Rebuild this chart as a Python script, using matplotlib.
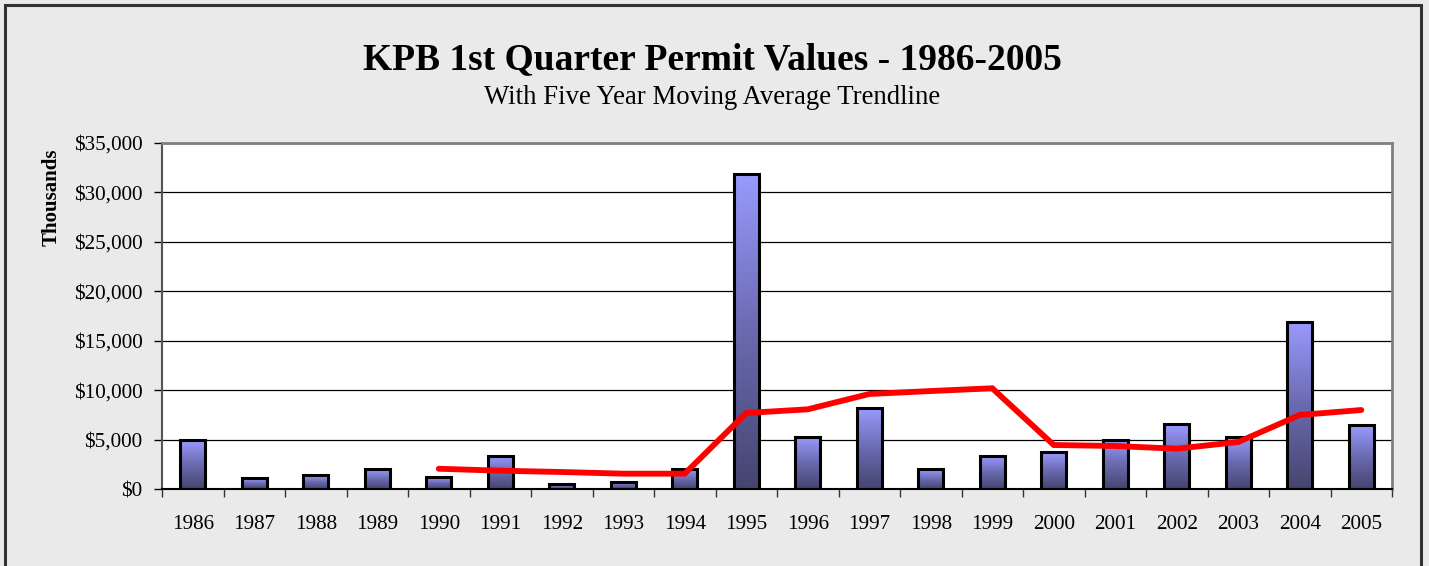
import numpy as np
import matplotlib
matplotlib.use("Agg")
import matplotlib.pyplot as plt
from matplotlib.patches import Rectangle
from matplotlib.ticker import FuncFormatter, MultipleLocator

# values in thousands of dollars
years = [str(y) for y in range(1986, 2006)]
permit_values = [4930, 1100, 1400, 2000, 1200, 3370, 480, 740, 2020, 31900,
                 5290, 8190, 2020, 3340, 3740, 4960, 6570, 5290, 16900, 6470]
# five year moving average, starts at 1990
ma_years = years[4:]
ma_values = [2050, 1850, 1720, 1550, 1550, 7690, 8060, 9610, 9910, 10190,
             4450, 4350, 4080, 4750, 7490, 7990]

plt.rcParams["font.family"] = ["Liberation Serif", "DejaVu Serif"]

fig = plt.figure(figsize=(14.29, 5.66), dpi=100)
fig.patch.set_facecolor("#eaeaea")
# outer chart frame (bottom edge falls below the image)
fig.patches.append(Rectangle((5 / 1429, -0.1), 1416 / 1429, 1.1 - 5 / 566,
                             transform=fig.transFigure, fill=False,
                             edgecolor="#333333", linewidth=2.2))

ax = fig.add_axes([162 / 1429, 1 - 489 / 566, 1230 / 1429, 346 / 566])
ax.set_facecolor("white")

x = np.arange(len(years))
bar_w = 0.40
grad = np.linspace(0, 1, 256).reshape(-1, 1)
cmap = matplotlib.colors.LinearSegmentedColormap.from_list(
    "barfade", ["#45456f", "#6a6ab0", "#9a9aff"])
for xi, v in zip(x, permit_values):
    ax.imshow(grad, cmap=cmap, origin="lower", aspect="auto",
              extent=(xi - bar_w / 2, xi + bar_w / 2, 0, v), zorder=2)
    ax.add_patch(Rectangle((xi - bar_w / 2, 0), bar_w, v, fill=False,
                           edgecolor="black", linewidth=2.2, zorder=3))

ma_x = [years.index(y) for y in ma_years]
ax.plot(ma_x, ma_values, color="#ff0000", linewidth=4.2, zorder=4,
        solid_capstyle="round", solid_joinstyle="miter")

ax.set_xlim(-0.5, len(years) - 0.5)
ax.set_ylim(0, 35000)
ax.yaxis.set_major_locator(MultipleLocator(5000))
ax.yaxis.set_major_formatter(FuncFormatter(lambda v, p: "${:,.0f}".format(v)))
ax.yaxis.grid(True, color="black", linewidth=0.9, zorder=1)
ax.set_axisbelow(True)

ax.set_xticks(x)
ax.set_xticklabels(years)
ax.set_xticks(np.arange(-0.5, len(years)), minor=True)
ax.tick_params(axis="x", which="major", length=0, pad=19, labelsize=15.2)
ax.tick_params(axis="x", which="minor", length=6, width=1, color="#333333")
ax.tick_params(axis="y", length=6, width=1, labelsize=15.2, pad=8)

for side in ["top", "right"]:
    ax.spines[side].set_color("#808080")
    ax.spines[side].set_linewidth(2)
ax.spines["left"].set_color("#555555")
ax.spines["left"].set_linewidth(1.5)
ax.spines["bottom"].set_color("black")
ax.spines["bottom"].set_linewidth(1.5)

fig.text(52 / 1429, 1 - 197 / 566, "Thousands", rotation=90, ha="center",
         va="center", fontsize=15, fontweight="bold")

fig.text(0.4985, 1 - 60 / 566, "KPB 1st Quarter Permit Values - 1986-2005",
         ha="center", va="center", fontsize=27, fontweight="bold")
fig.text(0.4985, 1 - 98 / 566, "With Five Year Moving Average Trendline",
         ha="center", va="center", fontsize=19.3)

fig.savefig("out.png", dpi=100, facecolor=fig.get_facecolor())
